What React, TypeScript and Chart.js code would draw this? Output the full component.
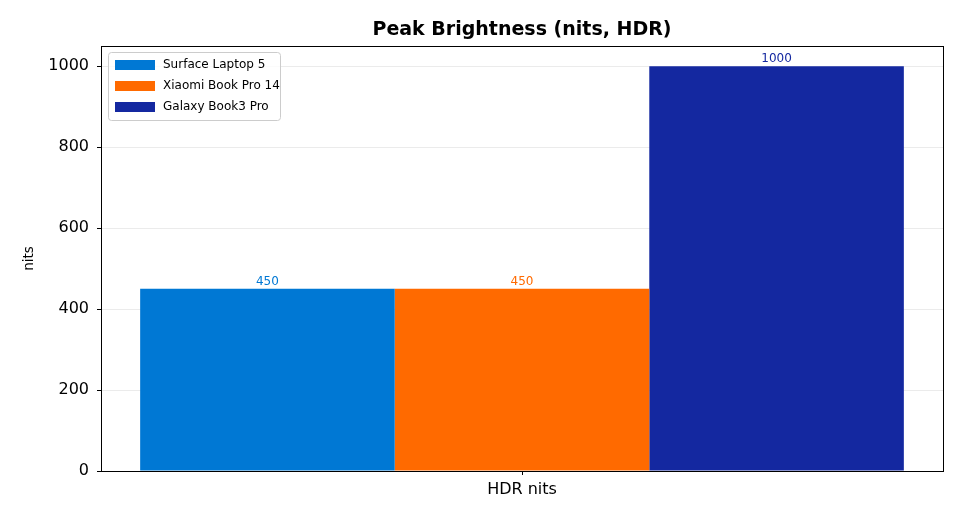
import { useEffect, useRef } from 'react';
import { Chart, registerables } from 'chart.js';

Chart.register(...registerables);

const categories = ['HDR nits'];
const seriesNames = ['Surface Laptop 5', 'Xiaomi Book Pro 14', 'Galaxy Book3 Pro'];
const seriesColors = ['#0078D4', '#FF6A00', '#1428A0'];
const surfaceNits = [450];
const xiaomiNits = [450];
const galaxyNits = [1000];
const yTicks = [0, 200, 400, 600, 800, 1000];

const FONT = "'DejaVu Sans', sans-serif";

const framePlugin = {
  id: 'frame',
  afterDraw(chart: any) {
    const { ctx, chartArea: a } = chart;
    ctx.save();
    ctx.strokeStyle = '#000';
    ctx.lineWidth = 1;
    ctx.strokeRect(Math.round(a.left) + 0.5, Math.round(a.top) + 0.5, Math.round(a.right - a.left), Math.round(a.bottom - a.top));
    ctx.restore();
  }
};

const valueLabelPlugin = {
  id: 'valueLabels',
  afterDatasetsDraw(chart: any) {
    const { ctx } = chart;
    ctx.save();
    ctx.font = `12px ${FONT}`;
    ctx.textAlign = 'center';
    ctx.textBaseline = 'bottom';
    chart.data.datasets.forEach((ds: any, i: number) => {
      const meta = chart.getDatasetMeta(i);
      meta.data.forEach((bar: any, j: number) => {
        ctx.fillStyle = ds.backgroundColor;
        ctx.fillText(String(ds.data[j]), bar.x, bar.y - 1);
      });
    });
    ctx.restore();
  }
};

const overlayPlugin = {
  id: 'overlay',
  afterDraw(chart: any) {
    const { ctx, chartArea: a } = chart;
    ctx.save();
    // title, centred over the plot area
    ctx.font = `bold 19px ${FONT}`;
    ctx.fillStyle = '#000';
    ctx.textAlign = 'center';
    ctx.textBaseline = 'middle';
    ctx.fillText('Peak Brightness (nits, HDR)', (a.left + a.right) / 2, 30);

    // legend box, upper left inside the plot
    const x = a.left + 7;
    const y = a.top + 6;
    const w = 172;
    const h = 68;
    ctx.fillStyle = 'rgba(255,255,255,0.8)';
    ctx.strokeStyle = '#cccccc';
    ctx.lineWidth = 1;
    ctx.beginPath();
    ctx.roundRect(x + 0.5, y + 0.5, w, h, 3);
    ctx.fill();
    ctx.stroke();
    ctx.font = `12px ${FONT}`;
    ctx.textAlign = 'left';
    seriesNames.forEach((name, i) => {
      const rowY = y + 13 + i * 21;
      ctx.fillStyle = seriesColors[i];
      ctx.fillRect(x + 7, rowY - 5, 40, 10);
      ctx.fillStyle = '#000';
      ctx.fillText(name, x + 55, rowY);
    });
    ctx.restore();
  }
};

export default function App() {
  const canvasRef = useRef<HTMLCanvasElement>(null);
  const chartRef = useRef<Chart | null>(null);

  useEffect(() => {
    document.body.style.margin = '0';
    if (!canvasRef.current) return;
    const ctx = canvasRef.current.getContext('2d');
    if (!ctx) return;

    if (chartRef.current) chartRef.current.destroy();

    const values = [surfaceNits, xiaomiNits, galaxyNits];

    chartRef.current = new Chart(ctx, {
      type: 'bar',
      data: {
        labels: categories,
        datasets: seriesNames.map((name, i) => ({
          label: name,
          data: values[i],
          backgroundColor: seriesColors[i],
          borderWidth: 0,
          barPercentage: 1,
          categoryPercentage: 0.907
        }))
      },
      options: {
        animation: false,
        responsive: false,
        maintainAspectRatio: false,
        devicePixelRatio: 1,
        layout: { padding: { top: 46, right: 19, bottom: 0, left: 0 } },
        plugins: {
          legend: { display: false },
          title: { display: false },
          tooltip: { enabled: false }
        },
        scales: {
          x: {
            afterFit: (s: any) => { s.height = 49; },
            border: { display: false },
            grid: {
              offset: false,
              drawOnChartArea: false,
              tickColor: '#000',
              tickLength: 4
            },
            ticks: { color: '#000', font: { family: FONT, size: 16 }, padding: 5 }
          },
          y: {
            min: 0,
            max: 1050,
            afterFit: (s: any) => { s.width = 101; },
            afterBuildTicks: (s: any) => { s.ticks = yTicks.map((v) => ({ value: v })); },
            border: { display: false },
            grid: { color: '#ebebeb', tickColor: '#000', tickLength: 4 },
            ticks: {
              color: '#000',
              font: { family: FONT, size: 16 },
              padding: 8,
              callback: (v: any) => String(v)
            },
            title: {
              display: true,
              text: 'nits',
              color: '#000',
              font: { family: FONT, size: 13.5 },
              padding: { top: 21, bottom: 0 }
            }
          }
        }
      },
      plugins: [valueLabelPlugin, framePlugin, overlayPlugin]
    });

    return () => {
      if (chartRef.current) {
        chartRef.current.destroy();
        chartRef.current = null;
      }
    };
  }, []);

  return (
    <div style={{ width: 962, height: 520, background: '#fff' }}>
      <canvas ref={canvasRef} width={962} height={520} />
    </div>
  );
}
